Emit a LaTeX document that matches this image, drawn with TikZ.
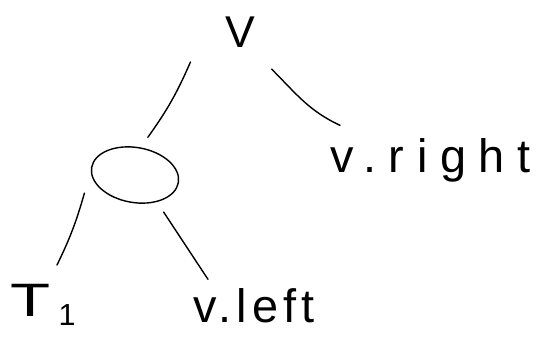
\documentclass[tikz,border=0pt]{standalone}
\usepackage{fontspec}
\setmainfont{Liberation Sans}
\usetikzlibrary{shapes.geometric,calc}
\begin{document}
\begin{tikzpicture}[x=0.03cm,y=-0.03cm,line width=1.2pt,line cap=round,
  lbl/.style={inner sep=0pt,font=\fontsize{40}{44}\selectfont},
  edge/.style={line width=1.2pt}]
\useasboundingbox (0,0) rectangle (537,338);
\node[lbl,font=\fontsize{38}{42}\selectfont] (root) at (240,32) {V};
\node[draw,ellipse,inner sep=0pt,minimum width=2.64cm,minimum height=1.65cm,rotate=-10] (mid) at (135,175) {};
\node[lbl,anchor=base west] (vright) at (330,172) {\addfontfeature{LetterSpace=27}v.right};
\node[lbl,anchor=base west] (tone) at (10,316) {\scalebox{1.4}[1]{T}\,\raisebox{-0.2em}{\fontsize{26}{28}\selectfont 1}};
\node[lbl,anchor=base west] (vleft) at (193,322) {\addfontfeature{LetterSpace=11}v.left};

\draw[edge] ($(root.south west)+(-34,14)$) to[bend left=6] ($(mid.north)+(8,-10)$);
\draw[edge] ($(root.south east)+(16,21)$) to[out=-45,in=155] ($(vright.north west)+(10,-12)$);
\draw[edge] ($(mid.south west)+(-16,4)$) to[bend left=5] ($(tone.north west)+(47,-18)$);
\draw[edge] ($(mid.south east)+(1,12)$) -- ($(vleft.north west)+(15,-8)$);
\end{tikzpicture}
\end{document}
